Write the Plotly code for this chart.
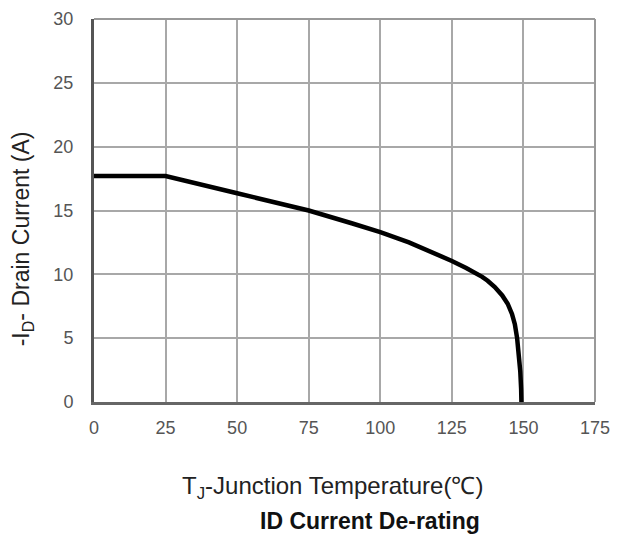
import plotly.graph_objects as go

temperature_c = [0, 25, 50, 75, 90, 100, 110, 118, 125, 130, 133, 135.6, 137.5,
                 140, 142.6, 144.5, 146, 147, 147.8, 148.4, 148.9, 149.2, 149.3]
drain_current_a = [17.7, 17.7, 16.35, 15.0, 14.0, 13.3, 12.5, 11.75, 11.05, 10.5, 10.15, 9.8, 9.5,
                   9.0, 8.35, 7.7, 6.9, 6.1, 5.0, 3.8, 2.4, 1.0, 0.0]

x_ticks = [0, 25, 50, 75, 100, 125, 150, 175]
y_ticks = [0, 5, 10, 15, 20, 25, 30]

fig = go.Figure()
fig.add_trace(go.Scatter(
    x=temperature_c, y=drain_current_a, mode="lines",
    line=dict(color="black", width=4.5),
    showlegend=False, hoverinfo="skip",
))

font_family = "Liberation Sans, Arial, sans-serif"
fig.update_layout(
    width=629, height=540,
    margin=dict(l=86, r=42, t=11, b=146),
    paper_bgcolor="white", plot_bgcolor="white",
    font=dict(family=font_family, color="#555555", size=18),
    xaxis=dict(
        range=[0, 175], tickvals=x_ticks, ticks="", showgrid=True,
        gridcolor="#a8a8a8", gridwidth=2, zeroline=False, automargin=False,
        showline=True, linecolor="#666666", linewidth=2.5, mirror=False,
        tickfont=dict(size=18, color="#555555"), ticklabelstandoff=8,
    ),
    yaxis=dict(
        range=[0, 30], tickvals=y_ticks, ticks="", showgrid=True,
        gridcolor="#a8a8a8", gridwidth=2, zeroline=False, automargin=False,
        showline=True, linecolor="#555555", linewidth=3, mirror=False,
        tickfont=dict(size=18, color="#555555"), ticklabelstandoff=14,
    ),
    shapes=[
        dict(type="line", xref="paper", yref="paper", x0=0, x1=1, y0=1, y1=1,
             line=dict(color="#999999", width=2)),
        dict(type="line", xref="paper", yref="paper", x0=1, x1=1, y0=0, y1=1,
             line=dict(color="#999999", width=2)),
    ],
    annotations=[
        dict(text="T<sub>J</sub>-Junction Temperature(℃)", xref="paper", yref="paper",
             x=0.477, y=-0.222, xanchor="center", yanchor="middle", showarrow=False,
             font=dict(size=24, color="#222222", family=font_family)),
        dict(text="<b>ID Current De-rating</b>", xref="paper", yref="paper",
             x=0.551, y=-0.311, xanchor="center", yanchor="middle", showarrow=False,
             font=dict(size=23, color="#111111", family=font_family)),
        dict(text="-I<sub>D</sub>- Drain Current (A)", xref="paper", yref="paper",
             x=-0.142, y=0.427, xanchor="center", yanchor="middle", showarrow=False,
             textangle=-90, font=dict(size=23, color="#222222", family=font_family)),
    ],
)

fig.write_html("out.html")
